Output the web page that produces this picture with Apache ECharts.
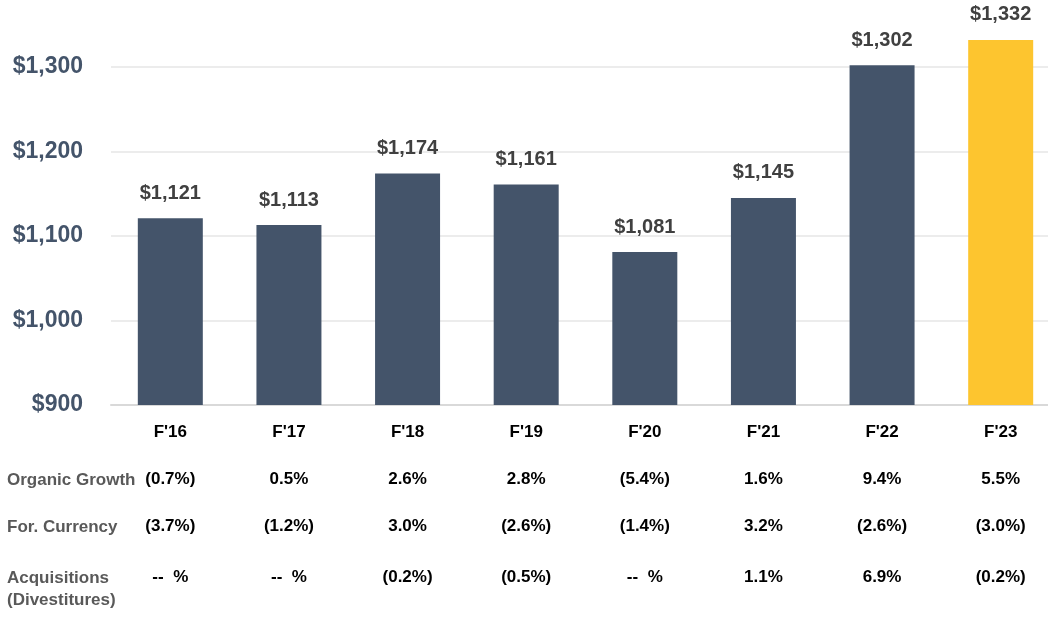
<!DOCTYPE html>
<html>
<head>
<meta charset="utf-8">
<script src="https://cdn.jsdelivr.net/npm/echarts@6/dist/echarts.min.js"></script>
<style>
  html, body { margin: 0; padding: 0; background: #fff; }
  #chart { width: 1048px; height: 617px; }
</style>
</head>
<body>
<div id="chart"></div>
<script>
// 年度数据
var categories = ["F'16", "F'17", "F'18", "F'19", "F'20", "F'21", "F'22", "F'23"]
var sales = [1121, 1113, 1174, 1161, 1081, 1145, 1302, 1332]
var organicGrowth = ['(0.7%)', '0.5%', '2.6%', '2.8%', '(5.4%)', '1.6%', '9.4%', '5.5%']
var forCurrency = ['(3.7%)', '(1.2%)', '3.0%', '(2.6%)', '(1.4%)', '3.2%', '(2.6%)', '(3.0%)']
var acquisitions = ['--  %', '--  %', '(0.2%)', '(0.5%)', '--  %', '1.1%', '6.9%', '(0.2%)']
var rowTitles = ['Organic Growth', 'For. Currency', 'Acquisitions\n(Divestitures)']

var narrow = "'Liberation Sans Narrow', 'Arial Narrow', 'Liberation Sans', sans-serif"
var chart = echarts.init(document.getElementById('chart'))

function money (v) {
    return '$' + String(v).replace(/\B(?=(\d{3})+(?!\d))/g, ',')
}

// 表格行：用附加的 x 轴画出来
function rowAxis (data, offset) {
    return {
        type: 'category',
        gridIndex: 0,
        position: 'bottom',
        offset: offset,
        data: data,
        axisLine: { show: false },
        axisTick: { show: false },
        splitLine: { show: false },
        axisLabel: {
            interval: 0,
            margin: 19,
            color: '#000',
            fontSize: 17,
            fontWeight: 'bold',
            fontFamily: narrow
        }
    }
}

var option = {
    animation: false,
    grid: { left: 111, width: 949, top: -17.5, height: 422.5, containLabel: false, outerBoundsMode: 'none' },
    xAxis: [
        {
            type: 'category',
            data: categories,
            axisLine: { show: true, lineStyle: { color: '#d9d9d9', width: 2 } },
            axisTick: { show: false },
            axisLabel: {
                interval: 0,
                margin: 19,
                color: '#000',
                fontSize: 17,
                fontWeight: 'bold',
                fontFamily: narrow
            }
        },
        rowAxis(organicGrowth, 47),
        rowAxis(forCurrency, 94),
        rowAxis(acquisitions, 145)
    ],
    yAxis: {
        type: 'value',
        min: 900,
        max: 1400,
        interval: 100,
        axisLine: { show: false },
        axisTick: { show: false },
        splitLine: { lineStyle: { color: '#e6e6e6', width: 1.5 } },
        axisLabel: {
            margin: 28,
            color: '#44546a',
            fontSize: 23,
            fontWeight: 'bold',
            fontFamily: "'Liberation Sans', Arial, sans-serif",
            formatter: money
        }
    },
    graphic: rowTitles.map(function (t, i) {
        var ys = [469, 516, 567]
        return {
            type: 'text',
            left: 7,
            top: ys[i],
            style: {
                text: t,
                fill: '#595959',
                font: 'bold 17px ' + narrow,
                lineHeight: 22
            }
        }
    }),
    series: [
        {
            type: 'bar',
            barWidth: 65,
            data: sales.map(function (v, i) {
                return {
                    value: v,
                    itemStyle: { color: i === sales.length - 1 ? '#fdc52f' : '#44546a' }
                }
            }),
            label: {
                show: true,
                position: 'top',
                distance: 15,
                color: '#404040',
                fontSize: 20,
                fontWeight: 'bold',
                fontFamily: narrow,
                formatter: function (p) { return money(p.value) }
            }
        }
    ]
}
chart.setOption(option)
</script>
</body>
</html>
